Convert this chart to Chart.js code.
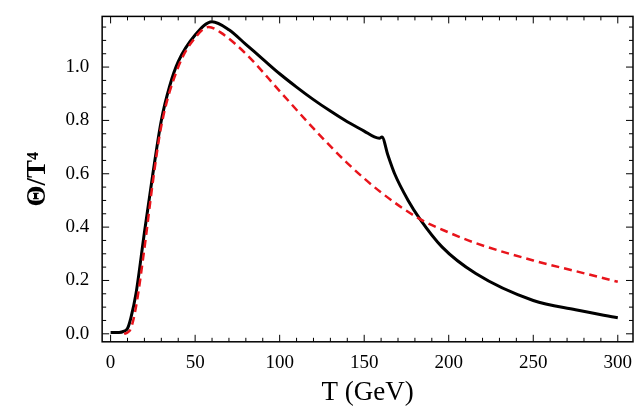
<!DOCTYPE html>
<html><head><meta charset="utf-8">
<script src="https://cdn.jsdelivr.net/npm/chart.js"></script>
<style>body{margin:0;background:#fff}#wrap{width:641px;height:409px}</style>
</head><body><div id="wrap"><canvas id="c"></canvas></div>
<script>
const solidT = [0, 5, 8, 10, 12, 15, 20, 25, 30, 35, 40, 50, 60, 70, 80, 90, 100, 110, 120, 130, 140, 150, 156, 159, 160.5, 164, 168, 176, 183, 196, 216, 250, 275, 300];
const solidV = [0.005, 0.005, 0.01, 0.02, 0.06, 0.15, 0.38, 0.6, 0.8, 0.93, 1.02, 1.12, 1.17, 1.14, 1.085, 1.03, 0.975, 0.925, 0.878, 0.835, 0.795, 0.76, 0.738, 0.733, 0.738, 0.67, 0.6, 0.5, 0.43, 0.326, 0.226, 0.125, 0.09, 0.06];
const dashT = [8, 10, 12, 15, 20, 25, 30, 40, 50, 58, 65, 80, 100, 120, 140, 160, 183, 200, 216, 250, 275, 300];
const dashV = [0, 0.005, 0.02, 0.1, 0.32, 0.57, 0.78, 1.0, 1.11, 1.15, 1.13, 1.05, 0.91, 0.77, 0.64, 0.53, 0.43, 0.38, 0.34, 0.275, 0.235, 0.195];
const xTicks = [0, 50, 100, 150, 200, 250, 300];
const yTicks = [0, 0.2, 0.4, 0.6, 0.8, 1.0];

const pts = (xs, ys) => xs.map((x, i) => ({x, y: ys[i]}));
const serif = "'Liberation Serif', 'DejaVu Serif', serif";

const innerTicks = {
  id: 'innerTicks',
  afterDraw(chart) {
    const {ctx, chartArea: a, scales: {x, y}} = chart;
    ctx.save();
    ctx.strokeStyle = '#000'; ctx.lineWidth = 1;
    ctx.beginPath();
    for (let v = 0; v <= 300; v += 10) {
      const px = x.getPixelForValue(v), len = v % 50 === 0 ? 7 : 4;
      ctx.moveTo(px, a.bottom); ctx.lineTo(px, a.bottom - len);
      ctx.moveTo(px, a.top); ctx.lineTo(px, a.top + len);
    }
    for (let k = 0; k <= 23; k++) {
      const v = k * 0.05, py = y.getPixelForValue(v), len = k % 4 === 0 ? 7 : 4;
      ctx.moveTo(a.left, py); ctx.lineTo(a.left + len, py);
      ctx.moveTo(a.right, py); ctx.lineTo(a.right - len, py);
    }
    ctx.stroke();
    ctx.lineWidth = 1.5;
    ctx.strokeRect(a.left, a.top, a.right - a.left, a.bottom - a.top);
    ctx.restore();
  }
};

new Chart(document.getElementById('c'), {
  type: 'line',
  data: {
    datasets: [
      {data: pts(dashT, dashV), borderColor: '#e8141b', borderWidth: 2.5, borderDash: [8, 5], pointRadius: 0, cubicInterpolationMode: 'monotone'},
      {data: pts(solidT, solidV), borderColor: '#000', borderWidth: 3, pointRadius: 0, cubicInterpolationMode: 'monotone'}
    ]
  },
  options: {
    responsive: true, maintainAspectRatio: false, animation: false,
    layout: {padding: {top: 10, right: 8, bottom: 0, left: 22}},
    plugins: {legend: {display: false}, tooltip: {enabled: false}},
    scales: {
      x: {
        type: 'linear', min: -5, max: 309,
        afterBuildTicks: s => { s.ticks = xTicks.map(v => ({value: v})); },
        grid: {display: false},
        border: {display: false},
        ticks: {color: '#000', font: {family: serif, size: 19}, padding: 2},
        title: {display: true, text: 'T (GeV)', color: '#000', font: {family: serif, size: 27}, padding: {top: 0, bottom: 0}}
      },
      y: {
        type: 'linear', min: -0.03, max: 1.19,
        afterBuildTicks: s => { s.ticks = yTicks.map(v => ({value: v})); },
        grid: {display: false},
        border: {display: false},
        ticks: {color: '#000', font: {family: serif, size: 19}, padding: 5, callback: v => v.toFixed(1)},
        title: {display: true, text: 'Θ/T⁴', color: '#000', font: {family: serif, size: 27, weight: 'bold'}, padding: {top: 0, bottom: 6}}
      }
    }
  },
  plugins: [innerTicks]
});
</script></body></html>
